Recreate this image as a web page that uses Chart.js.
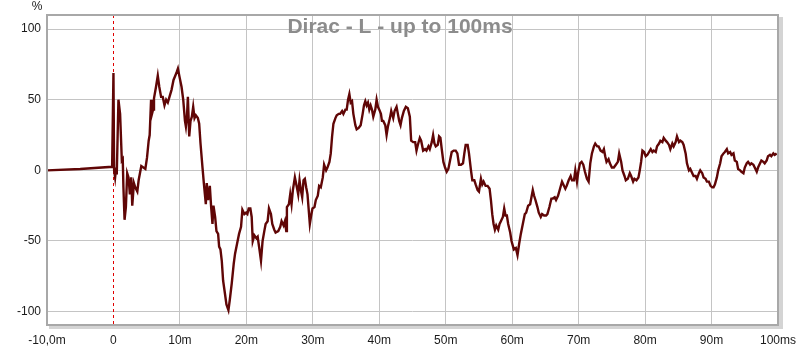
<!DOCTYPE html>
<html>
<head>
<meta charset="utf-8">
<script src="https://cdn.jsdelivr.net/npm/chart.js@4.4.1/dist/chart.umd.min.js"></script>
<style>
    html, body { margin: 0; padding: 0; background: #fff; }
    #box { width: 800px; height: 347px; }
</style>
</head>
<body>
<div id="box"><canvas id="grafico"></canvas></div>
<script>
// tempo em ms e amplitude em %
var tempos = [
    -10, -5, -0.2, 0, 0.1, 0.25, 0.4, 0.5, 0.75, 1.0, 1.26, 1.4, 1.5, 1.67, 1.87, 2.07, 2.27, 2.47, 2.68, 2.83,
    3.08, 3.28, 3.59, 3.79, 4.19, 4.5, 4.8, 5.05, 5.3, 5.45, 5.66, 5.8, 5.96, 6.1, 6.4, 6.67, 6.9, 7.17, 7.42, 7.68,
    7.93, 8.18, 8.43, 8.74, 9.04, 9.3, 9.55, 9.7, 9.95, 10.25, 10.5, 10.76, 10.9, 11.06, 11.2, 11.4, 11.6, 11.8, 12.0, 12.2,
    12.4, 12.7, 12.9, 13.1, 13.4, 13.6, 13.9, 14.04, 14.24, 14.5, 14.7, 14.9, 15.05, 15.3, 15.5, 15.75, 15.9, 16.1, 16.3, 16.5,
    16.77, 17.0, 17.3, 17.5, 17.8, 18.1, 18.3, 18.6, 18.9, 19.2, 19.4, 19.7, 19.95, 20.15, 20.35, 20.6, 20.8, 20.96, 21.2, 21.5,
    21.7, 22.0, 22.2, 22.44, 22.7, 22.9, 23.2, 23.4, 23.7, 23.9, 24.2, 24.4, 24.8, 25.1, 25.3, 25.6, 25.8, 26.0, 26.1, 26.4,
    26.6, 26.8, 27.0, 27.3, 27.6, 27.8, 28.0, 28.2, 28.4, 28.6, 28.8, 29.0, 29.2, 29.4, 29.55, 29.75, 29.95, 30.25, 30.45, 30.75,
    30.95, 31.2, 31.5, 31.7, 32.0, 32.2, 32.5, 32.7, 32.9, 33.1, 33.4, 33.6, 33.9, 34.1, 34.4, 34.6, 34.9, 35.1, 35.3, 35.5,
    35.7, 35.9, 36.1, 36.4, 36.6, 36.9, 37.2, 37.5, 37.7, 37.9, 38.1, 38.3, 38.5, 38.7, 38.9, 39.1, 39.4, 39.6, 39.8, 40.0,
    40.25, 40.4, 40.6, 40.9, 41.1, 41.3, 41.6, 41.8, 42.1, 42.3, 42.6, 42.8, 43.0, 43.2, 43.4, 43.7, 44.0, 44.3, 44.6, 44.8,
    45.1, 45.4, 45.6, 45.8, 46.1, 46.3, 46.6, 46.9, 47.1, 47.4, 47.6, 47.9, 48.1, 48.3, 48.5, 48.8, 49.0, 49.2, 49.4, 49.65,
    49.9, 50.15, 50.4, 50.65, 50.9, 51.2, 51.5, 51.75, 52.0, 52.3, 52.6, 52.8, 53.0, 53.3, 53.5, 53.8, 54.0, 54.3, 54.5, 54.8,
    55.0, 55.3, 55.5, 55.7, 56.0, 56.3, 56.6, 56.8, 57.0, 57.2, 57.4, 57.6, 57.9, 58.1, 58.3, 58.6, 58.8, 59.0, 59.2, 59.4,
    59.7, 59.9, 60.25, 60.55, 60.8, 61.05, 61.3, 61.6, 61.9, 62.1, 62.4, 62.7, 62.9, 63.1, 63.3, 63.5, 63.8, 64.0, 64.3, 64.5,
    64.8, 65.1, 65.3, 65.6, 65.9, 66.1, 66.4, 66.6, 66.9, 67.2, 67.5, 67.7, 68.0, 68.2, 68.5, 68.8, 69.0, 69.3, 69.5, 69.75,
    69.95, 70.2, 70.45, 70.7, 70.95, 71.25, 71.5, 71.75, 72.0, 72.3, 72.5, 72.8, 73.0, 73.3, 73.6, 73.8, 74.0, 74.2, 74.5, 74.7,
    75.0, 75.3, 75.6, 75.9, 76.1, 76.4, 76.6, 76.9, 77.1, 77.4, 77.7, 77.9, 78.2, 78.4, 78.7, 79.0, 79.2, 79.4, 79.6, 79.85,
    80.1, 80.35, 80.6, 80.85, 81.1, 81.3, 81.6, 81.8, 82.1, 82.3, 82.6, 82.8, 83.1, 83.3, 83.6, 83.8, 84.1, 84.3, 84.6, 84.8,
    85.1, 85.3, 85.6, 85.8, 86.1, 86.3, 86.6, 86.8, 87.1, 87.3, 87.6, 87.8, 88.1, 88.3, 88.6, 88.8, 89.1, 89.3, 89.6, 89.85,
    90.1, 90.3, 90.5, 90.8, 91.0, 91.3, 91.5, 91.8, 92.0, 92.3, 92.5, 92.8, 93.0, 93.3, 93.5, 93.8, 94.0, 94.3, 94.5, 94.8,
    95.0, 95.3, 95.5, 95.8, 96.0, 96.3, 96.5, 96.8, 97.0, 97.3, 97.5, 97.8, 98.0, 98.3, 98.5, 98.8, 99.0, 99.3, 99.5, 99.8
]
var amplitude = [
    0, 1, 2.5, 69, 0, -5, 2, -3, 50, 40, 7, 8, -12, -35, -26, -2, -5, -17, -5, -25,
    -9, -12, -15, -7, 3, 2, 1, 9, 21, 25, 50, 40, 43, 51, 59, 67, 59, 52, 52, 46,
    50, 48, 52, 57, 64, 67, 70, 72, 66, 59, 50, 35, 31, 38, 52, 24, 35, 38, 45, 37,
    39, 37, 33, 19, 2, -9, -24, -9, -21, -11, -26, -38, -25, -33, -43, -45, -54, -56, -64, -78,
    -87, -95, -99, -92, -80, -66, -59, -52, -45, -40, -28, -31, -30, -31, -27, -27, -33, -50, -46, -48,
    -47, -57, -64, -50, -43, -38, -36, -27, -31, -38, -42, -44, -43, -40, -36, -39, -36, -43, -26, -24,
    -17, -24, -14, -5, -12, -17, -7, -14, -19, -7, -6, -12, -17, -29, -38, -32, -27, -26, -21, -18,
    -11, -12, -5, 4, 0, 2, 6, 12, 24, 33, 37, 39, 40, 40, 42, 40, 43, 43, 50, 54,
    48, 49, 40, 32, 29, 30, 32, 40, 46, 49, 46, 48, 43, 46, 43, 38, 43, 50, 45, 43,
    40, 35, 35, 32, 25, 31, 37, 42, 37, 42, 45, 40, 35, 32, 37, 42, 45, 44, 38, 21,
    20, 20, 14, 18, 23, 21, 14, 15, 14, 17, 15, 20, 25, 19, 17, 18, 24, 23, 15, 6,
    2, -1, 1, 7, 13, 14, 14, 12, 4, 4, 5, 12, 18, 18, 12, 0, -7, -7, -10, -14,
    -15, -6, -10, -8, -11, -11, -13, -21, -31, -38, -42, -39, -42, -38, -36, -33, -27, -32, -32, -38,
    -44, -50, -56, -55, -60, -52, -45, -38, -31, -30, -25, -24, -19, -14, -18, -21, -26, -30, -33, -31,
    -32, -32, -31, -26, -20, -20, -19, -21, -18, -13, -8, -10, -13, -11, -7, -4, -7, -7, 0, -8,
    -1, 5, 6, 4, -1, -6, -8, 5, 12, 17, 19, 17, 17, 14, 13, 15, 10, 6, 8, 5,
    2, 2, 4, 6, 12, 6, 0, -4, -7, -6, -2, -4, -8, -6, -7, -5, 0, 6, 14, 13,
    10, 11, 13, 15, 13, 14, 13, 17, 19, 21, 20, 23, 21, 20, 18, 15, 19, 17, 20, 24,
    20, 21, 20, 18, 12, 5, 0, 1, -2, -4, -4, -6, -2, 0, -2, -5, -6, -8, -8, -11,
    -12, -12, -10, -5, 0, 5, 10, 12, 13, 15, 12, 13, 11, 12, 7, 6, 1, 0, -1, -2,
    2, 5, 6, 4, 5, 4, 2, -1, 2, 5, 7, 6, 5, 7, 10, 11, 10, 12, 11, 12
]
var ticksX = [-10, 0, 10, 20, 30, 40, 50, 60, 70, 80, 90, 100]
var rotulosX = ['-10,0m', '0', '10m', '20m', '30m', '40m', '50m', '60m', '70m', '80m', '90m', '100ms']
var ticksY = [-100, -50, 0, 50, 100]
var titulo = 'Dirac - L - up to 100ms'

var pontos = []
for (var i = 0; i < tempos.length; i++) {
    pontos.push({ x: tempos[i], y: amplitude[i] })
}

// moldura, linha tracejada do zero e titulo
const extras = {
    id: 'extras',
    beforeDatasetsDraw(chart) {
        const ctx = chart.ctx
        const area = chart.chartArea
        const x0 = chart.scales.x.getPixelForValue(0)
        ctx.save()
        ctx.strokeStyle = '#e00000'
        ctx.lineWidth = 1
        ctx.setLineDash([3, 3])
        ctx.beginPath()
        ctx.moveTo(Math.round(x0) + 0.5, area.top)
        ctx.lineTo(Math.round(x0) + 0.5, area.bottom)
        ctx.stroke()
        ctx.restore()
    },
    afterDraw(chart) {
        const ctx = chart.ctx
        const a = chart.chartArea
        ctx.save()
        ctx.fillStyle = '#d4d4d4'
        ctx.fillRect(a.right + 1, a.top + 2, 4, a.bottom - a.top + 2)
        ctx.fillRect(a.left + 2, a.bottom + 1, a.right - a.left + 3, 3)
        ctx.strokeStyle = '#a8a8a8'
        ctx.lineWidth = 2
        ctx.strokeRect(a.left, a.top, a.right - a.left, a.bottom - a.top)

        ctx.font = 'bold 21px "Liberation Sans", Arial, sans-serif'
        ctx.fillStyle = '#8c8c8c'
        ctx.textAlign = 'center'
        ctx.textBaseline = 'alphabetic'
        ctx.fillText(titulo, 400, 33)

        ctx.font = '12px "Liberation Sans", Arial, sans-serif'
        ctx.fillStyle = '#1a1a1a'
        ctx.fillText('%', 37, 10)
        ctx.restore()
    }
}

const ctx = document.getElementById('grafico')

new Chart(ctx, {
    type: 'line',
    data: {
        datasets: [{
            data: pontos,
            borderColor: '#600606',
            borderWidth: 2.4,
            pointRadius: 0,
            tension: 0,
            fill: false
        }]
    },
    options: {
        responsive: true,
        maintainAspectRatio: false,
        animation: false,
        events: [],
        layout: {
            padding: { top: 15, right: 22, left: 0, bottom: 0 }
        },
        plugins: {
            legend: { display: false },
            title: { display: false },
            tooltip: { enabled: false }
        },
        scales: {
            x: {
                type: 'linear',
                min: -10,
                max: 100,
                afterBuildTicks: function (axis) {
                    axis.ticks = ticksX.map(function (v) { return { value: v } })
                },
                afterFit: function (axis) {
                    axis.height = 22
                    axis.paddingLeft = 0
                    axis.paddingRight = 0
                },
                grid: {
                    color: function (c) { return c.tick && c.tick.value === 0 ? 'rgba(0,0,0,0)' : '#c4c4c4' },
                    lineWidth: 1,
                    drawTicks: false
                },
                border: { display: false },
                ticks: {
                    autoSkip: false,
                    maxRotation: 0,
                    padding: 8,
                    color: '#1a1a1a',
                    font: { family: '"Liberation Sans", Arial, sans-serif', size: 12 },
                    callback: function (v) {
                        var k = ticksX.indexOf(v)
                        return k >= 0 ? rotulosX[k] : ''
                    }
                }
            },
            y: {
                min: -109.5,
                max: 110,
                afterBuildTicks: function (axis) {
                    axis.ticks = ticksY.map(function (v) { return { value: v } })
                },
                afterFit: function (axis) {
                    axis.width = 47
                    axis.paddingTop = 0
                    axis.paddingBottom = 0
                },
                grid: {
                    color: '#c4c4c4',
                    lineWidth: 1,
                    drawTicks: false
                },
                border: { display: false },
                ticks: {
                    padding: 6,
                    color: '#1a1a1a',
                    font: { family: '"Liberation Sans", Arial, sans-serif', size: 12 }
                }
            }
        }
    },
    plugins: [extras]
});
</script>
</body>
</html>
